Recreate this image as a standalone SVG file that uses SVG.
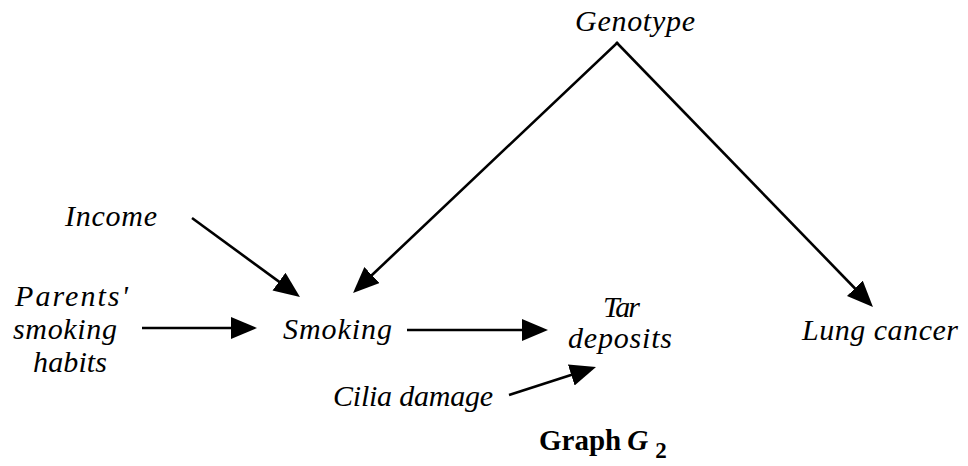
<svg xmlns="http://www.w3.org/2000/svg" width="968" height="466" viewBox="0 0 968 466">
<style>
.lbl{font-family:"Liberation Serif","Times New Roman",serif;font-style:italic;font-size:30px;fill:#000}
.ttl{font-family:"Liberation Serif","Times New Roman",serif;font-weight:bold;font-size:29px;fill:#000}
.edge{stroke:#000;stroke-width:2.6;fill:none;marker-end:url(#ah)}
</style>
<defs>
<marker id="ah" markerUnits="userSpaceOnUse" markerWidth="26" markerHeight="22" refX="16" refY="11" orient="auto" viewBox="0 0 26 22">
<path d="M0,0 L26,11 L0,22 z" fill="#000"/>
</marker>
</defs>
<rect width="968" height="466" fill="#fff"/>
<g id="connectors">
<line class="edge" x1="192" y1="218" x2="291.9" y2="291.1"/>
<line class="edge" x1="617" y1="43" x2="360.3" y2="286.1" stroke-linecap="square"/>
<line class="edge" x1="142" y1="328" x2="247" y2="328"/>
<line class="edge" x1="407" y1="330" x2="538" y2="330"/>
<line class="edge" x1="509" y1="395" x2="586.5" y2="370.1"/>
<line class="edge" x1="617" y1="43" x2="866" y2="299.8" stroke-linecap="square"/>
</g>
<g id="genotype"><text class="lbl" x="575" y="31" textLength="120" lengthAdjust="spacing">Genotype</text></g>
<g id="income"><text class="lbl" x="65" y="226" textLength="92" lengthAdjust="spacing">Income</text></g>
<g id="parents">
<text class="lbl" x="15" y="306" textLength="113" lengthAdjust="spacing">Parents'</text>
<text class="lbl" x="13" y="339" textLength="104" lengthAdjust="spacing">smoking</text>
<text class="lbl" x="33" y="372" textLength="74" lengthAdjust="spacing">habits</text>
</g>
<g id="smoking"><text class="lbl" x="283" y="339" textLength="109" lengthAdjust="spacing">Smoking</text></g>
<g id="tar">
<text class="lbl" x="603" y="317" textLength="37" lengthAdjust="spacing">Tar</text>
<text class="lbl" x="568" y="348" textLength="104" lengthAdjust="spacing">deposits</text>
</g>
<g id="cilia"><text class="lbl" x="333" y="406" textLength="160" lengthAdjust="spacing">Cilia damage</text></g>
<g id="lung"><text class="lbl" x="802" y="340" textLength="156" lengthAdjust="spacing">Lung cancer</text></g>
<g id="title"><text class="ttl" x="539" y="450">Graph<tspan dx="6" font-style="italic">G</tspan><tspan dx="7" dy="8" font-size="23">2</tspan></text></g>
</svg>
